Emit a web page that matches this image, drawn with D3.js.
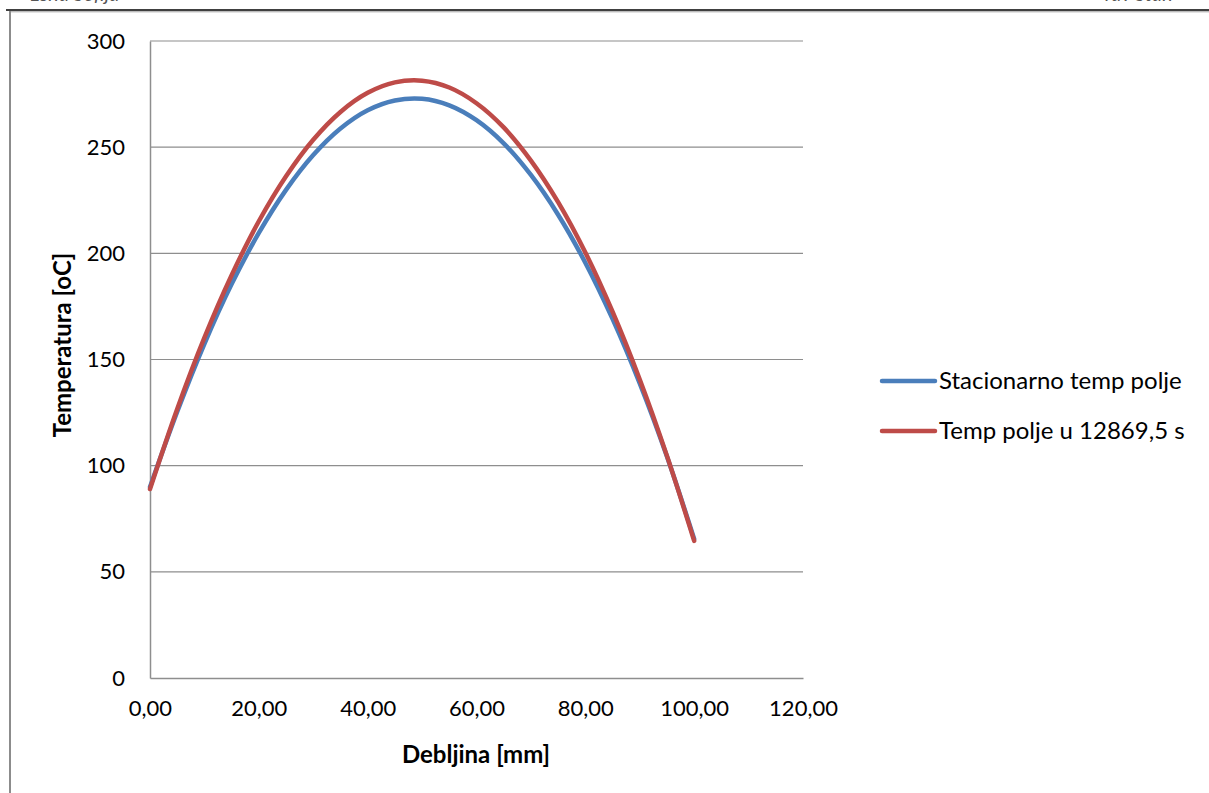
<!DOCTYPE html>
<html>
<head>
<meta charset="utf-8">
<script src="https://cdn.jsdelivr.net/npm/d3@7"></script>
<style>
  html, body { margin: 0; padding: 0; background: #fff; }
  svg { display: block; }
  text { font-family: Lato, "Open Sans", sans-serif; fill: #000; }
</style>
</head>
<body>
<svg id="chart" width="1209" height="793"></svg>
<script>
// ---- data ----
const thickness = [0, 5, 10, 15, 20, 25, 30, 35, 40, 45, 50, 55, 60, 65, 70, 75, 80, 85, 90, 95, 100];
const stationary = [90, 125.4, 157.4, 185.5, 209.6, 229.9, 246.3, 258.8, 267.4, 272.0, 272.8, 269.7, 262.7, 251.8, 236.9, 218.2, 195.6, 169.1, 138.7, 104.3, 65.5];
const transient = [89, 126.7, 160.3, 189.7, 215.1, 236.3, 253.5, 266.6, 275.6, 280.5, 281.3, 278.1, 270.7, 259.3, 243.7, 224.1, 200.4, 172.5, 140.6, 104.6, 64.6];
const seriesNames = ["Stacionarno temp polje", "Temp polje u 12869,5 s"];
const seriesColors = ["#4A7EBB", "#BE4B48"];
const yTicks = [0, 50, 100, 150, 200, 250, 300];
const xTicks = [0, 20, 40, 60, 80, 100, 120];
const xTitle = "Debljina [mm]";
const yTitle = "Temperatura [oC]";

// ---- layout ----
const svg = d3.select("#chart");
const plot = { left: 150, right: 803, top: 41, bottom: 678 };
const x = d3.scaleLinear().domain([0, 120]).range([plot.left, plot.right]);
const y = d3.scaleLinear().domain([0, 300]).range([plot.bottom, plot.top]);

// page frame (document border fragments)
svg.append("line").attr("x1", 6).attr("x2", 1209).attr("y1", 10).attr("y2", 10)
  .attr("stroke", "#000").attr("stroke-width", 1.6);
svg.append("line").attr("x1", 10).attr("x2", 1209).attr("y1", 11.8).attr("y2", 11.8)
  .attr("stroke", "#a0a0a0").attr("stroke-width", 1);
svg.append("line").attr("x1", 10).attr("x2", 10).attr("y1", 11).attr("y2", 793)
  .attr("stroke", "#8c8c8c").attr("stroke-width", 2);
// cut-off running header text (only its lower edge is visible, as in the reference)
svg.append("text").attr("x", 30).attr("y", 1).style("font-style", "italic")
  .style("font-size", "20px").style("fill", "#555").text("Lena Sofija");
svg.append("text").attr("x", 1105).attr("y", 1).style("font-style", "italic")
  .style("font-size", "20px").style("fill", "#555").text("rav Stan");

// gridlines
svg.append("g").selectAll("line").data(yTicks.filter(d => d > 0)).join("line")
  .attr("x1", plot.left).attr("x2", plot.right)
  .attr("y1", d => y(d)).attr("y2", d => y(d))
  .attr("stroke", "#8e8e8e").attr("stroke-width", 1.2);

// y axis
const yAxis = d3.axisLeft(y).tickValues(yTicks).tickSize(0).tickPadding(25).tickFormat(d3.format("d"));
const gy = svg.append("g").attr("transform", `translate(${plot.left},0)`).call(yAxis);
gy.select(".domain").attr("stroke", "#8e8e8e").attr("stroke-width", 1.5);
gy.selectAll("text").style("font-size", "22px").style("font-family", "Lato, sans-serif");

// x axis
const xAxis = d3.axisBottom(x).tickValues(xTicks).tickSize(0).tickPadding(22)
  .tickFormat(d => d3.format(".2f")(d).replace(".", ","));
const gx = svg.append("g").attr("transform", `translate(0,${plot.bottom})`).call(xAxis);
gx.select(".domain").attr("stroke", "#8e8e8e").attr("stroke-width", 1.5);
gx.selectAll("text").style("font-size", "22px").style("font-family", "Lato, sans-serif");

// axis titles
svg.append("text").attr("x", 476).attr("y", 763).attr("text-anchor", "middle")
  .style("font-size", "24px").style("font-weight", "bold").text(xTitle);
svg.append("text").attr("transform", "translate(71,345) rotate(-90)").attr("text-anchor", "middle")
  .style("font-size", "24px").style("font-weight", "bold").text(yTitle);

// lines
const line = d3.line().x((d, i) => x(thickness[i])).y(d => y(d)).curve(d3.curveCatmullRom.alpha(0.5));
[stationary, transient].forEach((s, k) => {
  svg.append("path").datum(s).attr("d", line)
    .attr("fill", "none").attr("stroke", seriesColors[k]).attr("stroke-width", 4.5)
    .attr("stroke-linecap", "round").attr("stroke-linejoin", "round");
});

// legend
const legend = svg.append("g");
seriesNames.forEach((name, k) => {
  const ly = 381 + k * 50;
  legend.append("line").attr("x1", 882).attr("x2", 935).attr("y1", ly).attr("y2", ly)
    .attr("stroke", seriesColors[k]).attr("stroke-width", 4.5).attr("stroke-linecap", "round");
  legend.append("text").attr("x", 939).attr("y", ly + 8).style("font-size", "24px").text(name);
});
</script>
</body>
</html>
